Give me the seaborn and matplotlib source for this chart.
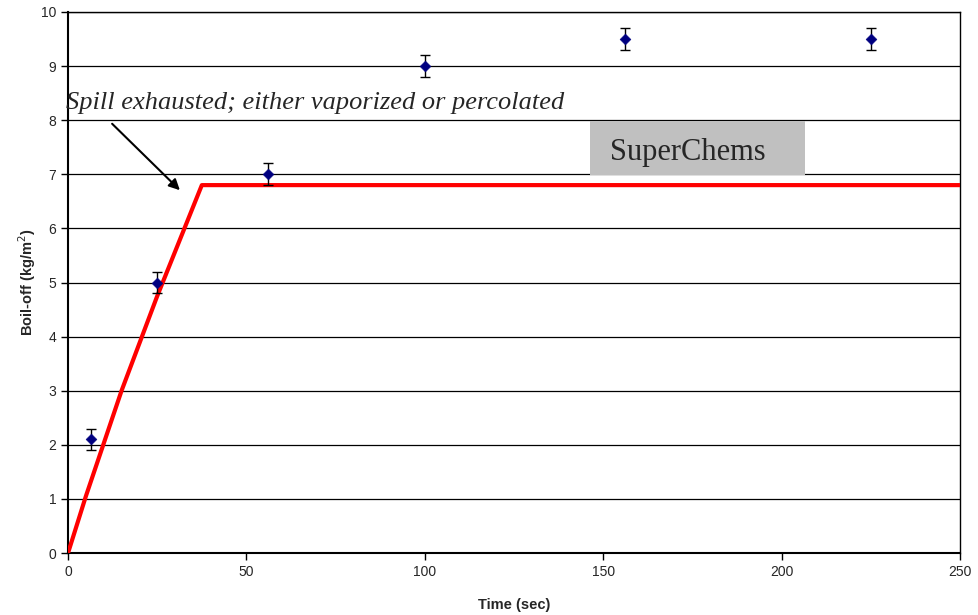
import numpy as np
import pandas as pd
import matplotlib
matplotlib.use("Agg")
import matplotlib.pyplot as plt
import seaborn as sns
from matplotlib.patches import Rectangle

# measured boil-off points
time_pts = [6.3, 25, 56, 100, 156, 225]
boiloff_pts = [2.1, 5.0, 7.0, 9.0, 9.5, 9.5]
err_pts = [0.2, 0.2, 0.2, 0.2, 0.2, 0.2]

# SuperChems model curve
time_model = [0, 5, 15, 25, 37.5, 250]
boiloff_model = [0, 1.05, 3.0, 4.75, 6.8, 6.8]

xticks = [0, 50, 100, 150, 200, 250]
yticks = list(range(0, 11))

sns.set_style("white")
plt.rcParams["font.family"] = ["Liberation Sans", "DejaVu Sans"]

fig = plt.figure(figsize=(9.79, 6.15), dpi=100)
ax = fig.add_axes([0.0695, 0.1008, 0.9111, 0.8797])

for y in yticks[1:]:
    ax.axhline(y, color="black", lw=0.9, zorder=0)

model = pd.DataFrame({"t": time_model, "b": boiloff_model})
sns.lineplot(data=model, x="t", y="b", color="#ff0000", lw=3, ax=ax, zorder=3)

meas = pd.DataFrame({"t": time_pts, "b": boiloff_pts})
ax.errorbar(time_pts, boiloff_pts, yerr=err_pts, fmt="none", ecolor="black",
            elinewidth=1, capsize=3.5, capthick=1, zorder=4)
sns.scatterplot(data=meas, x="t", y="b", marker="D", s=30, color="#000080",
                edgecolor="#000080", ax=ax, zorder=5)

ax.set_xlim(0, 250)
ax.set_ylim(0, 10)
ax.set_xticks(xticks)
ax.set_yticks(yticks)
ax.tick_params(axis="both", direction="out", length=5, width=1, color="black",
               labelsize=10, bottom=True, left=True)
for s in ax.spines.values():
    s.set_color("black")
    s.set_linewidth(1)
ax.spines["left"].set_linewidth(1.5)
ax.spines["bottom"].set_linewidth(1.5)

ax.set_xlabel("Time (sec)", fontsize=10.5, fontweight="bold", labelpad=14)
ax.set_ylabel("Boil-off (kg/m$^2$)", fontsize=10.5, fontweight="bold", labelpad=2)

ax.text(-0.5, 8.2, "Spill exhausted; either vaporized or percolated",
        fontsize=19, style="italic", family=["Liberation Serif", "DejaVu Serif"],
        ha="left", va="baseline", zorder=6, clip_on=False)
ax.annotate("", xy=(31.9, 6.67), xytext=(11.8, 7.97),
            arrowprops=dict(arrowstyle="-|>", color="black", lw=1.5,
                            mutation_scale=16), zorder=6)

ax.add_patch(Rectangle((146.3, 6.98), 60.3, 1.0, facecolor="#c0c0c0",
                       edgecolor="none", zorder=2))
ax.text(152.0, 7.4, "SuperChems", fontsize=22,
        family=["Liberation Serif", "DejaVu Serif"], ha="left", va="center",
        zorder=6)

fig.savefig("out.png", dpi=100)
